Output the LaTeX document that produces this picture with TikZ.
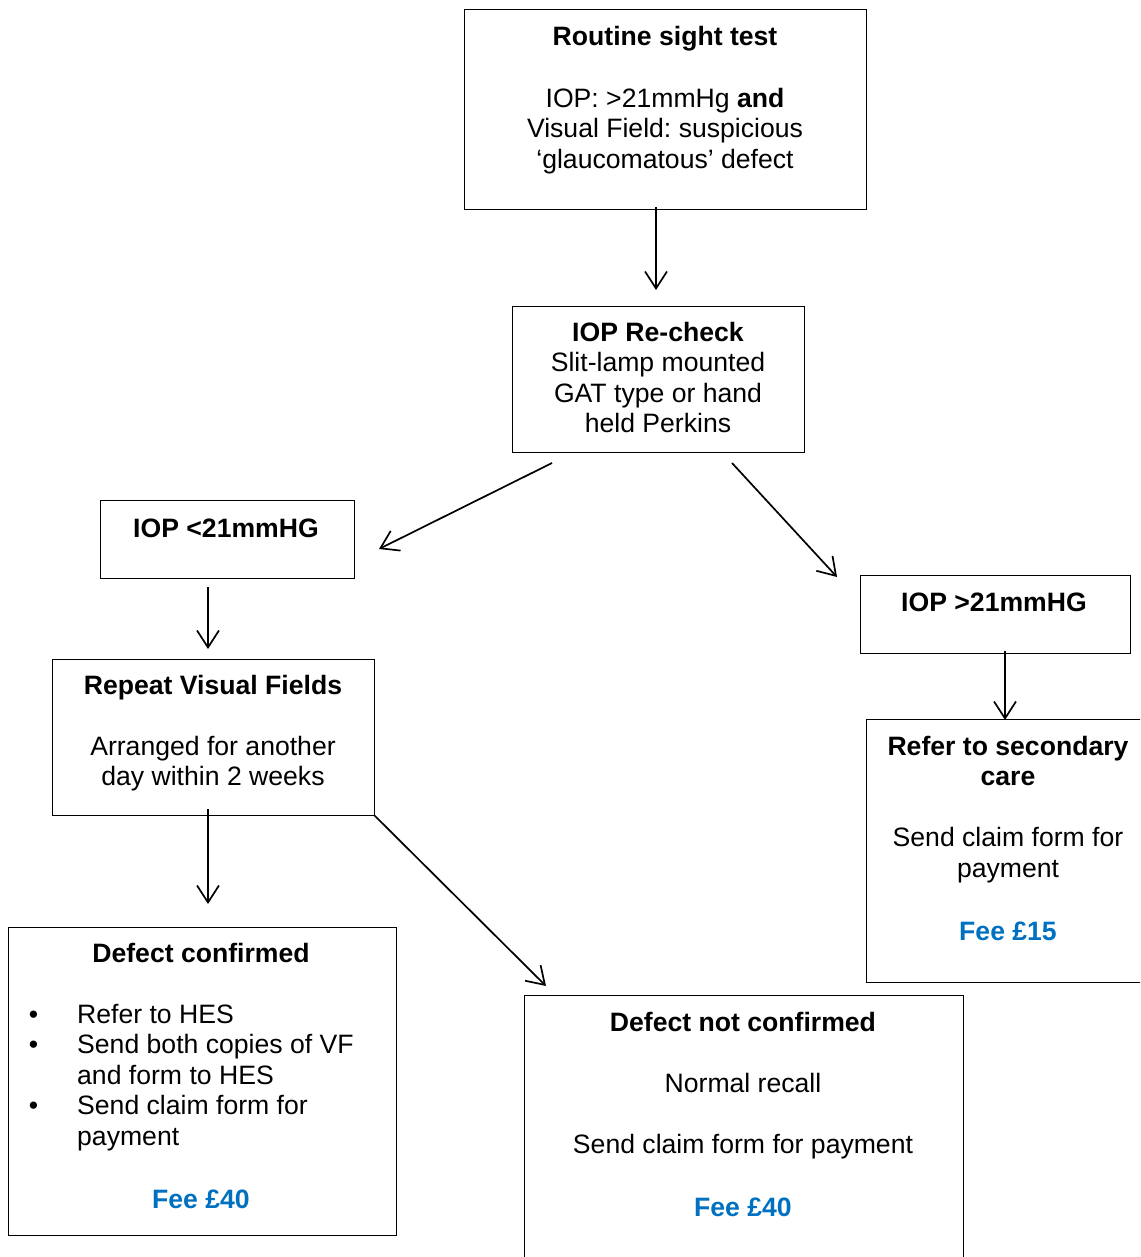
\documentclass[tikz,border=0pt]{standalone}
\usepackage{fontspec}
\setmainfont{Liberation Sans}
\usetikzlibrary{arrows.meta}
\frenchspacing
\definecolor{feeblue}{RGB}{0,112,192}
\newcommand\vlines[1]{\vtop{\baselineskip=30.6pt\lineskiplimit=-100pt\halign{\hfil##\hfil\cr#1\crcr}}}
\newcommand\vlinesl[1]{\vtop{\baselineskip=30.6pt\lineskiplimit=-100pt\halign{##\hfil\cr#1\crcr}}}
\newcommand\bul{\llap{•\hspace{39pt}}}
\tikzset{
  box/.style={draw, line width=1.3pt, inner sep=0pt, anchor=north west},
  txt/.style={inner sep=0pt, anchor=base, font=\fontsize{26.6}{30.6}\selectfont},
  arr/.style={-{Straight Barb[length=17pt,width=22pt]}, line width=1.7pt},
  fee/.style={txt, font=\fontsize{26.6}{30.6}\selectfont\bfseries, text=feeblue}
}
\begin{document}
\begin{tikzpicture}[x=1pt,y=-1pt]
\useasboundingbox (0,0) rectangle (1140,1257);
\clip (0,0) rectangle (1140,1257);
% boxes
\node[box, minimum width=402pt, minimum height=200pt] (rt) at (464,9) {};
\node[box, minimum width=292pt, minimum height=146pt] (rc) at (512,306) {};
\node[box, minimum width=254pt, minimum height=78pt] (lo) at (100,500) {};
\node[box, minimum width=270pt, minimum height=78pt] (hi) at (860,575) {};
\node[box, minimum width=322pt, minimum height=156pt] (vf) at (52,659) {};
\node[box, minimum width=290pt, minimum height=263pt] (sc) at (866,719) {};
\node[box, minimum width=388pt, minimum height=308pt] (dc) at (8,927) {};
\node[box, minimum width=439pt, minimum height=290pt] (dn) at (524,995) {};
% texts
\node[txt] (rtT) at (665,46) {\vlines{\textbf{Routine sight test}\cr\cr IOP: >21mmHg \textbf{and}\cr Visual Field: suspicious\cr ‘glaucomatous’ defect}};
\node[txt] (rcT) at (658,341) {\vlines{\textbf{IOP Re-check}\cr Slit-lamp mounted\cr GAT type or hand\cr held Perkins}};
\node[txt] (loT) at (226,537) {\textbf{IOP <21mmHG}};
\node[txt] (hiT) at (994,611) {\textbf{IOP >21mmHG}};
\node[txt] (vfT) at (213,694) {\vlines{\textbf{Repeat Visual Fields}\cr\cr Arranged for another\cr day within 2 weeks}};
\node[txt] (scT) at (1008,755) {\vlines{\textbf{Refer to secondary}\cr\textbf{care}\cr\cr Send claim form for\cr payment}};
\node[fee] (scF) at (1008,940) {Fee £15};
\node[txt] (dcT) at (201,962) {\textbf{Defect confirmed}};
\node[txt, anchor=base west] (dcL) at (77,1023) {\vlinesl{\bul Refer to HES\cr \bul Send both copies of VF\cr and form to HES\cr \bul Send claim form for\cr payment}};
\node[fee] (dcF) at (201,1208) {Fee £40};
\node[txt] (dnT) at (743,1031) {\vlines{\textbf{Defect not confirmed}\cr\cr Normal recall\cr\cr Send claim form for payment}};
\node[fee] (dnF) at (743,1216) {Fee £40};
% connector ends
\coordinate (a1s) at (656,207); \coordinate (a1e) at (656,290);
\coordinate (a2s) at (552,463); \coordinate (a2e) at (379,549);
\coordinate (a3s) at (732,463); \coordinate (a3e) at (837,577);
\coordinate (a4s) at (208,587); \coordinate (a4e) at (208,649);
\coordinate (a5s) at (1005,651); \coordinate (a5e) at (1005,720);
\coordinate (a6s) at (208,809); \coordinate (a6e) at (208,904);
\coordinate (a7s) at (374,815); \coordinate (a7e) at (546,986);
\draw[arr] (a1s) -- (a1e);
\draw[arr] (a2s) -- (a2e);
\draw[arr] (a3s) -- (a3e);
\draw[arr] (a4s) -- (a4e);
\draw[arr] (a5s) -- (a5e);
\draw[arr] (a6s) -- (a6e);
\draw[arr] (a7s) -- (a7e);
\end{tikzpicture}
\end{document}
